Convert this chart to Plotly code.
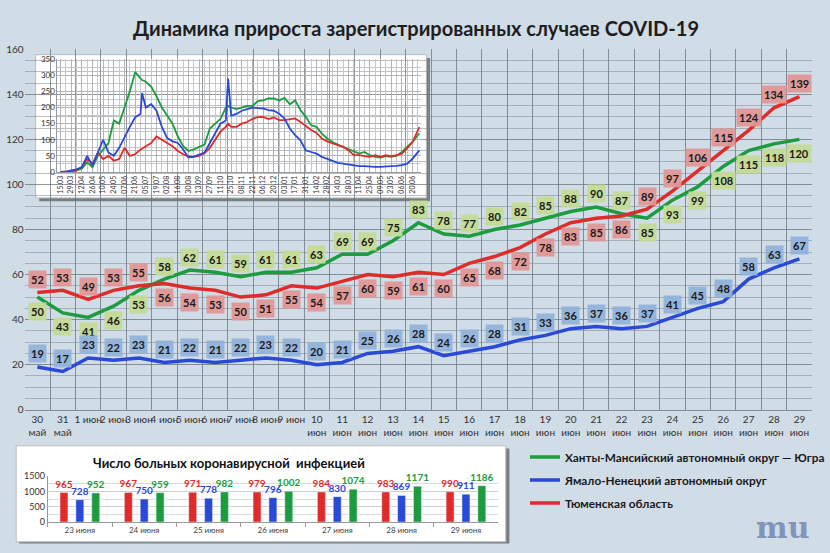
import plotly.graph_objects as go

# main chart: daily growth, 30 May - 29 June
days = ["30<br>май", "31<br>май", "1 июн", "2 июн", "3 июн", "4 июн", "5 июн", "6 июн",
        "7 июн", "8 июн", "9 июн", "10<br>июн", "11<br>июн", "12<br>июн", "13<br>июн",
        "14<br>июн", "15<br>июн", "16<br>июн", "17<br>июн", "18<br>июн", "19<br>июн",
        "20<br>июн", "21<br>июн", "22<br>июн", "23<br>июн", "24<br>июн", "25<br>июн",
        "26<br>июн", "27<br>июн", "28<br>июн", "29<br>июн"]
hmao = [50, 43, 41, 46, 53, 58, 62, 61, 59, 61, 61, 63, 69, 69, 75, 83, 78, 77, 80, 82,
        85, 88, 90, 87, 85, 93, 99, 108, 115, 118, 120]
yanao = [19, 17, 23, 22, 23, 21, 22, 21, 22, 23, 22, 20, 21, 25, 26, 28, 24, 26, 28, 31,
         33, 36, 37, 36, 37, 41, 45, 48, 58, 63, 67]
tyumen = [52, 53, 49, 53, 55, 56, 54, 53, 50, 51, 55, 54, 57, 60, 59, 61, 60, 65, 68, 72,
          78, 83, 85, 86, 89, 97, 106, 115, 124, 134, 139]

# inset: whole epidemic
inset_dates = ["2020-03-15", "2020-03-22", "2020-03-29", "2020-04-05", "2020-04-12", "2020-04-19",
               "2020-04-26", "2020-05-03", "2020-05-10", "2020-05-17", "2020-05-24", "2020-05-31",
               "2020-06-07", "2020-06-14", "2020-06-21", "2020-06-28", "2020-06-30", "2020-07-05",
               "2020-07-12", "2020-07-19", "2020-07-26", "2020-08-02", "2020-08-09", "2020-08-16",
               "2020-08-23", "2020-08-30", "2020-09-06", "2020-09-13", "2020-09-20", "2020-09-27",
               "2020-10-04", "2020-10-11", "2020-10-18", "2020-10-21", "2020-10-25", "2020-11-01",
               "2020-11-08", "2020-11-15", "2020-11-22", "2020-11-29", "2020-12-06", "2020-12-13",
               "2020-12-20", "2020-12-27", "2021-01-03", "2021-01-10", "2021-01-17", "2021-01-24",
               "2021-01-31", "2021-02-07", "2021-02-14", "2021-02-21", "2021-02-28", "2021-03-07",
               "2021-03-14", "2021-03-21", "2021-03-28", "2021-04-04", "2021-04-11", "2021-04-18",
               "2021-04-25", "2021-05-02", "2021-05-09", "2021-05-16", "2021-05-23", "2021-05-30",
               "2021-06-06", "2021-06-13", "2021-06-20", "2021-06-29"]
inset_hmao = [0, 0, 2, 5, 10, 30, 15, 50, 70, 90, 160, 150, 200, 250, 310, 290, 285, 280,
              265, 235, 200, 175, 150, 110, 80, 65, 70, 78, 85, 135, 150, 165, 200, 205, 200,
              195, 200, 205, 205, 220, 222, 228, 228, 222, 230, 210, 222, 192, 171, 145, 140,
              119, 104, 93, 85, 78, 69, 64, 57, 62, 52, 47, 45, 49, 47, 50, 62, 78, 93, 120]
inset_yanao = [0, 0, 5, 8, 15, 50, 20, 60, 100, 60, 50, 75, 110, 140, 170, 180, 245, 200,
               210, 190, 140, 105, 95, 90, 70, 45, 48, 55, 60, 90, 120, 150, 160, 290, 175,
               180, 190, 195, 200, 198, 197, 192, 190, 181, 166, 135, 114, 98, 67, 62, 57,
               47, 41, 36, 28, 26, 23, 21, 18, 18, 16, 16, 16, 18, 18, 19, 21, 26, 41, 67]
inset_tyumen = [0, 0, 2, 5, 15, 40, 25, 60, 40, 50, 35, 40, 75, 50, 55, 70, 72, 80,
                90, 110, 100, 90, 80, 65, 55, 48, 47, 50, 58, 75, 100, 125, 140, 150, 140,
                140, 150, 155, 165, 170, 171, 164, 169, 161, 161, 163, 166, 155, 142, 130, 121,
                104, 95, 88, 83, 78, 67, 52, 52, 49, 47, 52, 47, 52, 49, 52, 57, 73, 93, 139]

# bottom chart: number of patients
bar_days = ["23 июня", "24 июня", "25 июня", "26 июня", "27 июня", "28 июня", "29 июня"]
bar_tyumen = [965, 967, 971, 979, 984, 983, 990]
bar_yanao = [728, 750, 778, 796, 830, 869, 911]
bar_hmao = [952, 959, 982, 1002, 1074, 1171, 1186]

names = ["Ханты-Мансийский автономный округ — Югра", "Ямало-Ненецкий автономный округ",
         "Тюменская область"]

GREEN = "#1c9c3e"
BLUE = "#2a49d6"
RED = "#e02b2b"
FONT = "Lato"

fig = go.Figure()
x = list(range(len(days)))

# main lines
for i, (vals, col) in enumerate([(hmao, GREEN), (yanao, BLUE), (tyumen, RED)]):
    fig.add_trace(go.Scatter(x=x, y=vals, mode="lines", name="<b>" + names[i] + "</b>",
                             line=dict(color=col, width=3.5), legendrank=i + 1,
                             legendgroup="g%d" % i))

# inset lines
for vals, col in [(inset_hmao, GREEN), (inset_tyumen, RED), (inset_yanao, BLUE)]:
    fig.add_trace(go.Scatter(x=inset_dates, y=vals, mode="lines", xaxis="x2", yaxis="y2",
                             line=dict(color=col, width=1.8), showlegend=False))

# bars
for vals, col in [(bar_tyumen, RED), (bar_yanao, BLUE), (bar_hmao, GREEN)]:
    fig.add_trace(go.Bar(x=bar_days, y=vals, xaxis="x3", yaxis="y3", marker_color=col,
                         text=vals, textposition="outside", cliponaxis=False,
                         constraintext="none",
                         textfont=dict(color=col, size=10, family=FONT, weight="bold"),
                         showlegend=False))

# value labels on the main chart
anns = []
def label(i, v, bg, up):
    anns.append(dict(x=i, y=v, xref="x", yref="y", text="<b>%d</b>" % v, showarrow=False,
                     bgcolor=bg, borderpad=2, yshift=13 if up else -14,
                     font=dict(size=11, color="#1a1a1a", family=FONT)))

for i in x:
    label(i, hmao[i], "rgba(196,218,150,0.95)", hmao[i] > tyumen[i])
    label(i, tyumen[i], "rgba(226,150,150,0.95)", tyumen[i] >= hmao[i])
    label(i, yanao[i], "rgba(146,178,218,0.95)", True)

anns.append(dict(text="<b>Динамика прироста зарегистрированных случаев COVID-19</b>",
                 x=0.506, y=0.949, xref="paper", yref="paper", showarrow=False,
                 xanchor="center", yanchor="middle",
                 font=dict(size=20, color="#1e1e1e", family=FONT)))
anns.append(dict(text="<b>Число больных коронавирусной  инфекцией</b>",
                 x=0.278, y=0.163, xref="paper", yref="paper", showarrow=False,
                 xanchor="center", yanchor="middle",
                 font=dict(size=13, color="#111", family=FONT)))
anns.append(dict(text="<b>mu</b>", x=0.953, y=0.047, xref="paper", yref="paper",
                 xanchor="center", yanchor="middle",
                 showarrow=False, font=dict(size=30, color="#8194ba", family="DejaVu Serif")))

shapes = [
    # inset frame with shadow
    dict(type="rect", xref="x2 domain", yref="y2 domain", x0=-0.05, x1=1.025, y0=-0.26,
         y1=1.01, fillcolor="rgba(50,50,50,0.55)", line_width=0, layer="below"),
    dict(type="rect", xref="x2 domain", yref="y2 domain", x0=-0.06, x1=1.015, y0=-0.23,
         y1=1.04, fillcolor="white", line=dict(color="#bbbbbb", width=1), layer="below"),
    # bar chart frame with shadow
    dict(type="rect", xref="x3 domain", yref="y3 domain", x0=-0.063, x1=1.025, y0=-0.47,
         y1=1.6, fillcolor="rgba(50,50,50,0.55)", line_width=0, layer="below"),
    dict(type="rect", xref="x3 domain", yref="y3 domain", x0=-0.07, x1=1.017, y0=-0.43,
         y1=1.66, fillcolor="white", line=dict(color="#bbbbbb", width=1), layer="below"),
]

grid = "rgba(105,115,125,0.75)"
fig.update_layout(
    width=830, height=553,
    margin=dict(l=0, r=0, t=0, b=0),
    paper_bgcolor="#d0dce6",
    plot_bgcolor="rgba(0,0,0,0)",
    font=dict(family=FONT, color="#333"),
    xaxis=dict(domain=[0.030, 0.988], range=[-0.5, 30.5], tickmode="array", tickvals=x,
               ticktext=days, tickangle=0, showgrid=False, zeroline=False, ticks="",
               tickfont=dict(size=10, color="#333"), automargin=False,
               minor=dict(tick0=0.5, dtick=1, showgrid=True, gridcolor=grid, gridwidth=1),
               showline=True, linecolor=grid),
    yaxis=dict(domain=[0.259, 0.911], range=[0, 160], dtick=20, gridcolor=grid,
               zeroline=False, tickfont=dict(size=10, color="#333"), automargin=False,
               minor=dict(dtick=5, showgrid=True, gridcolor="rgba(120,130,140,0.5)")),
    xaxis2=dict(domain=[0.0699, 0.512], anchor="y2", type="date",
                range=["2020-03-11", "2021-07-01"], tick0="2020-03-15",
                dtick=14 * 86400000, tickformat="%d.%m", tickangle=-90,
                tickfont=dict(size=7, color="#333"), gridcolor="#b4b4b4", automargin=False,
                minor=dict(dtick=7 * 86400000, showgrid=True, gridcolor="#c8c8c8"),
                showline=True, linecolor="#999", ticks=""),
    yaxis2=dict(domain=[0.689, 0.893], anchor="x2", range=[0, 350], dtick=50,
                gridcolor="#b4b4b4", zeroline=False, tickfont=dict(size=8, color="#333"),
                minor=dict(dtick=25, showgrid=True, gridcolor="#c8c8c8"), automargin=False,
                showline=True, linecolor="#999"),
    xaxis3=dict(domain=[0.058, 0.606], anchor="y3", type="category", showgrid=False,
                ticks="outside", tickson="boundaries", ticklen=4, tickcolor="#999",
                showline=True, linecolor="#999", tickfont=dict(size=8, color="#444"),
                automargin=False),
    yaxis3=dict(domain=[0.056, 0.139], anchor="x3", range=[0, 1500], dtick=500,
                gridcolor="#cfcfcf", zeroline=False, tickfont=dict(size=9, color="#333"),
                minor=dict(dtick=250, showgrid=True, gridcolor="#dcdcdc"),
                showline=True, linecolor="#999", automargin=False),
    barmode="group", bargap=0.26, bargroupgap=0.5,
    legend=dict(x=0.639, y=0.2, xanchor="left", yanchor="top", bgcolor="rgba(0,0,0,0)",
                font=dict(size=11.8, color="#1a1a1a", family=FONT), itemwidth=30,
                tracegroupgap=4),
    annotations=anns,
    shapes=shapes,
)

# page body has a default 8px margin; drop it so the figure fills the window
fig.write_html("out.html", config={"displayModeBar": False},
               post_script="document.body.style.margin='0';")
